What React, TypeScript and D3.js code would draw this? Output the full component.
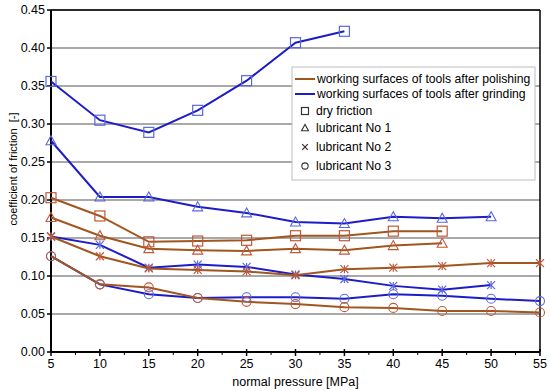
import * as d3 from 'd3'

const pressure = [5, 10, 15, 20, 25, 30, 35, 40, 45, 50, 55]
const yTicks = [0, 0.05, 0.1, 0.15, 0.2, 0.25, 0.3, 0.35, 0.4, 0.45]

// grinding (blue)
const dryGrinding = [0.356, 0.305, 0.289, 0.318, 0.357, 0.407, 0.422]
const lub1Grinding = [0.278, 0.204, 0.204, 0.191, 0.183, 0.171, 0.169, 0.178, 0.176, 0.178]
const lub2Grinding = [0.152, 0.141, 0.111, 0.115, 0.112, 0.102, 0.096, 0.087, 0.082, 0.088]
const lub3Grinding = [0.126, 0.089, 0.076, 0.071, 0.072, 0.072, 0.07, 0.076, 0.074, 0.07, 0.067]

// polishing (brown)
const dryPolishing = [0.203, 0.179, 0.145, 0.146, 0.147, 0.153, 0.153, 0.159, 0.159]
const lub1Polishing = [0.177, 0.153, 0.136, 0.134, 0.133, 0.136, 0.134, 0.14, 0.143]
const lub2Polishing = [0.152, 0.126, 0.11, 0.108, 0.106, 0.101, 0.109, 0.111, 0.113, 0.117, 0.117]
const lub3Polishing = [0.126, 0.089, 0.085, 0.071, 0.066, 0.063, 0.059, 0.058, 0.054, 0.054, 0.052]

const legendLabels = [
  'working surfaces of tools after polishing',
  'working surfaces of tools after grinding',
  'dry friction',
  'lubricant No 1',
  'lubricant No 2',
  'lubricant No 3',
]

const BLUE = '#1c1cc8'
const BROWN = '#a0561e'
const BLUE_MK = '#5a68dc'
const BROWN_MK = '#c0583a'

type Shape = 'square' | 'triangle' | 'cross' | 'circle'

function Marker({ x, y, shape, color, s = 1, star = true }: { x: number; y: number; shape: Shape; color: string; s?: number; star?: boolean }) {
  if (shape === 'square') return <rect x={x - 5 * s} y={y - 5 * s} width={10 * s} height={10 * s} fill="none" stroke={color} strokeWidth={1.2} />
  if (shape === 'triangle') {
    const p = `${x},${y - 5 * s} ${x - 5 * s},${y + 4 * s} ${x + 5 * s},${y + 4 * s}`
    return <polygon points={p} fill="none" stroke={color} strokeWidth={1.1} />
  }
  if (shape === 'cross')
    return (
      <g stroke={color} strokeWidth={1.2}>
        <line x1={x - 4 * s} y1={y - 4 * s} x2={x + 4 * s} y2={y + 4 * s} />
        <line x1={x - 4 * s} y1={y + 4 * s} x2={x + 4 * s} y2={y - 4 * s} />
        {star && <line x1={x} y1={y - 4 * s} x2={x} y2={y + 4 * s} />}
      </g>
    )
  return <circle cx={x} cy={y} r={4.5 * s} fill="none" stroke={color} strokeWidth={1.1} />
}

export default function App() {
  const width = 550, height = 391
  const left = 51, right = 540, top = 10, bottom = 352
  const font = 'Liberation Sans, Arial, sans-serif'

  const x = d3.scaleLinear().domain([5, 55]).range([left, right])
  const y = d3.scaleLinear().domain([0, 0.45]).range([bottom, top])

  const series = [
    { vals: dryGrinding, color: BLUE, mk: BLUE_MK, shape: 'square' as Shape },
    { vals: lub1Grinding, color: BLUE, mk: BLUE_MK, shape: 'triangle' as Shape },
    { vals: lub2Grinding, color: BLUE, mk: BLUE_MK, shape: 'cross' as Shape },
    { vals: lub3Grinding, color: BLUE, mk: BLUE_MK, shape: 'circle' as Shape },
    { vals: dryPolishing, color: BROWN, mk: BROWN_MK, shape: 'square' as Shape },
    { vals: lub1Polishing, color: BROWN, mk: BROWN_MK, shape: 'triangle' as Shape },
    { vals: lub2Polishing, color: BROWN, mk: BROWN_MK, shape: 'cross' as Shape },
    { vals: lub3Polishing, color: BROWN, mk: BROWN_MK, shape: 'circle' as Shape },
  ]

  const line = d3.line<number>().x((_, i) => x(pressure[i])).y(d => y(d))
  const minor = d3.range(7.5, 55, 5)

  const lx = 292, ly = 67
  const rowY = [79, 94, 111, 128, 147, 166]
  const legendShapes: Shape[] = ['square', 'triangle', 'cross', 'circle']

  return (
    <svg width={width} height={height} style={{ position: 'absolute', left: 0, top: 0 }} fontFamily={font}>
      <rect width={width} height={height} fill="#fff" />
      {yTicks.slice(1).map(t => (
        <line key={t} x1={left} x2={right} y1={y(t)} y2={y(t)} stroke="#8c8c8c" strokeWidth={1.5} />
      ))}
      <line x1={left} x2={right} y1={top} y2={top} stroke="#000" strokeWidth={1.5} />
      <line x1={right} x2={right} y1={top} y2={bottom} stroke="#000" strokeWidth={1.5} />
      <line x1={left} x2={left} y1={top} y2={bottom} stroke="#000" strokeWidth={2} />
      <line x1={left} x2={right} y1={bottom} y2={bottom} stroke="#000" strokeWidth={2} />
      {yTicks.map(t => (
        <g key={t}>
          <line x1={left - 4} x2={left} y1={y(t)} y2={y(t)} stroke="#000" strokeWidth={1.5} />
          <text x={left - 6} y={y(t)} dy="0.35em" textAnchor="end" fontSize={12.5}>{t.toFixed(2)}</text>
        </g>
      ))}
      {pressure.map(p => (
        <g key={p}>
          <line x1={x(p)} x2={x(p)} y1={bottom - 3} y2={bottom + 4} stroke="#000" strokeWidth={1.5} />
          <text x={x(p)} y={bottom + 16} textAnchor="middle" fontSize={12.5}>{p}</text>
        </g>
      ))}
      {minor.map(p => (
        <line key={p} x1={x(p)} x2={x(p)} y1={bottom} y2={bottom + 3} stroke="#000" strokeWidth={1} />
      ))}
      <text x={x(30)} y={386} textAnchor="middle" fontSize={12.5}>normal pressure [MPa]</text>
      <text transform="translate(17,169) rotate(-90)" textAnchor="middle" fontSize={11} xmlSpace="preserve">coefficient of friction  [-]</text>

      {series.map((s, i) => (
        <path key={i} d={line(s.vals) ?? ''} fill="none" stroke={s.color} strokeWidth={2} />
      ))}
      {series.map((s, i) => (
        <g key={'m' + i}>
          {s.vals.map((v, j) => (
            <Marker key={j} x={x(pressure[j])} y={y(v)} shape={s.shape} color={s.mk} />
          ))}
        </g>
      ))}

      <rect x={lx} y={ly} width={243} height={113} fill="#fff" stroke="#bdbdbd" strokeWidth={1} />
      <line x1={295} x2={315} y1={rowY[0]} y2={rowY[0]} stroke={BROWN} strokeWidth={2} />
      <line x1={295} x2={315} y1={rowY[1]} y2={rowY[1]} stroke={BLUE} strokeWidth={2} />
      {legendShapes.map((sh, i) => (
        <Marker key={sh} x={305} y={rowY[i + 2]} shape={sh} color="#333" s={0.7} star={false} />
      ))}
      {legendLabels.map((l, i) => (
        <text key={l} x={i < 2 ? 317 : 316} y={rowY[i]} dy="0.35em" fontSize={12.2}>{l}</text>
      ))}
    </svg>
  )
}
